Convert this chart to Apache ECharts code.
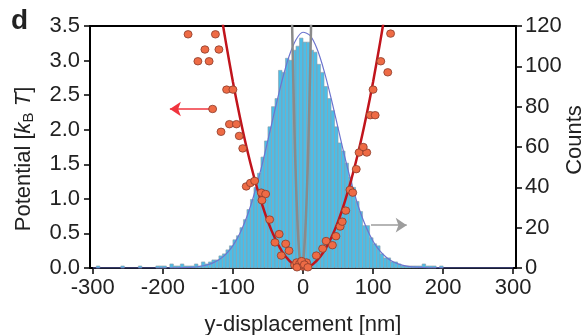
<!DOCTYPE html>
<html><head><meta charset="utf-8">
<script src="https://cdn.jsdelivr.net/npm/echarts@6/dist/echarts.min.js"></script>
<style>html,body{margin:0;padding:0;background:#fff}#c{width:587px;height:335px}</style>
</head><body><div id="c"></div>
<script>
const xTicks = [-300,-200,-100,0,100,200,300];
const binWidth = 5;
const binCenters = [
-297.5,-292.5,-287.5,-282.5,-277.5,-272.5,-267.5,-262.5,-257.5,-252.5,
-247.5,-242.5,-237.5,-232.5,-227.5,-222.5,-217.5,-212.5,-207.5,-202.5,
-197.5,-192.5,-187.5,-182.5,-177.5,-172.5,-167.5,-162.5,-157.5,-152.5,
-147.5,-142.5,-137.5,-132.5,-127.5,-122.5,-117.5,-112.5,-107.5,-102.5,
-97.5,-92.5,-87.5,-82.5,-77.5,-72.5,-67.5,-62.5,-57.5,-52.5,
-47.5,-42.5,-37.5,-32.5,-27.5,-22.5,-17.5,-12.5,-7.5,-2.5,
2.5,7.5,12.5,17.5,22.5,27.5,32.5,37.5,42.5,47.5,
52.5,57.5,62.5,67.5,72.5,77.5,82.5,87.5,92.5,97.5,
102.5,107.5,112.5,117.5,122.5,127.5,132.5,137.5,142.5,147.5,
152.5,157.5,162.5,167.5,172.5,177.5,182.5,187.5,192.5,197.5];
const binCounts = [
0,1,0,0,0,0,0,0,1,0,
0,0,0,1,0,0,0,0,1,1,
1,0,2,1,1,2,1,1,1,2,
1,3,2,3,4,4,6,7,9,11,
14,16,20,24,29,34,40,47,55,63,
70,80,84,98,97,104,103,108,110,114,
112,112,108,107,101,97,90,84,78,70,
62,58,52,45,40,33,28,21,21,15,
12,11,7,5,5,3,3,2,1,1,
1,1,1,1,2,1,1,1,0,1];
const fitX = [-300,-250,-200,-180,-160,-150,-140,-130,-120,-110,-100,-90,-80,-70,-60,-50,-40,-30,-20,-10,0,10,20,30,40,50,60,70,80,90,100,110,120,130,140,150,160,180,200,250,300];
const fitCounts = [0,0,0.01,0.07,0.31,0.63,1.22,2.27,4.03,6.85,11.1,17.2,25.5,36.2,49.0,63.5,78.5,92.8,104.9,113.2,116.9,115.3,108.7,97.9,84.4,69.5,54.6,41.1,29.5,20.3,13.3,8.35,5.0,2.87,1.57,0.82,0.41,0.09,0.02,0,0];
const potX = [-120,-115,-110,-100,-90,-80,-70,-60,-50,-40,-30,-20,-10,0,10,20,30,40,50,60,70,80,90,100,110,115,120];
const potU = [3.88,3.56,3.26,2.69,2.18,1.72,1.32,0.97,0.67,0.43,0.24,0.11,0.027,0,0.027,0.11,0.24,0.43,0.67,0.97,1.32,1.72,2.18,2.69,3.26,3.56,3.88];
const narrowX = [-17,-15.5,-14,-12,-10,-8,-6,-4,-2,0,2,4,6,8,10,11.5,13];
const narrowU = [4.32,3.5,2.77,1.92,1.23,0.69,0.31,0.077,0,0.077,0.31,0.69,1.23,1.92,2.77,3.5,4.32];
const dotX = [-164,-125,-140,-120,-150,-134,-109,-100,-129,-105,-95,-117,-91,-86,
 -81,-75,-69,-59.5,-53.3,-58.6,-47.6,-34,-40,-24.7,-20,-31,-12,-9,-5,0,5,-8.6,1,
 -2,2,7,19,28,33,42,47,53,56,61,67,71,76,80,91,86,
 125,111,121,100,96,103];
const dotU = [3.38,3.38,3.16,3.16,2.99,2.99,2.58,2.58,2.30,2.08,2.08,1.97,1.91,1.73,
 1.18,1.23,1.26,1.09,1.07,0.98,0.70,0.49,0.37,0.35,0.25,0.18,0.04,0.08,0.06,0.02,0.08,0.01,0.04,
 0.10,0.05,0.01,0.18,0.28,0.39,0.33,0.46,0.60,0.67,0.83,1.13,1.09,1.43,1.67,1.67,1.75,
 3.39,2.99,2.83,2.58,2.21,2.21];

const FONT = 'Liberation Sans, Arial, Helvetica, sans-serif';
const zip = (a, b) => a.map((v, i) => [v, b[i]]);
const chart = echarts.init(document.getElementById('c'));
chart.setOption({
  animation: false,
  backgroundColor: '#fff',
  grid: {left: 90, right: 71, top: 26, bottom: 67, show: false, containLabel: false, outerBoundsMode: 'none'},
  graphic: [{type: 'text', left: 11, top: 7, style: {text: 'd', font: 'bold 28px ' + FONT, fill: '#222'}}],
  xAxis: [{
    type: 'value', min: -304, max: 304, position: 'bottom',
    axisLine: {show: true, onZero: false, lineStyle: {color: '#000', width: 2}},
    axisTick: {show: true, length: 6, customValues: xTicks, lineStyle: {color: '#000', width: 1.5}},
    axisLabel: {customValues: xTicks, fontSize: 22, color: '#222', margin: 9, fontFamily: FONT},
    splitLine: {show: false},
    name: 'y-displacement [nm]', nameLocation: 'middle', nameGap: 46,
    nameTextStyle: {fontSize: 22, color: '#222', fontFamily: FONT}
  }, {
    type: 'value', min: -304, max: 304, position: 'top',
    axisLine: {show: true, onZero: false, lineStyle: {color: '#000', width: 2}},
    axisTick: {show: false}, axisLabel: {show: false}, splitLine: {show: false}
  }],
  yAxis: [{
    type: 'value', min: 0, max: 3.5, interval: 0.5, position: 'left',
    axisLine: {show: true, onZero: false, lineStyle: {color: '#000', width: 2}},
    axisTick: {show: true, length: 6, lineStyle: {color: '#000', width: 1.5}},
    axisLabel: {formatter: v => v.toFixed(1), fontSize: 22, color: '#222', margin: 10, fontFamily: FONT},
    splitLine: {show: false},
    name: 'Potential [{i|k}{s|B}{i| T}]', nameLocation: 'middle', nameGap: 54, nameRotate: 90,
    nameTextStyle: {fontSize: 22, color: '#222', fontFamily: FONT, padding: [0, 24, 0, 0],
      rich: {i: {fontSize: 22, fontStyle: 'italic', color: '#222', fontFamily: FONT},
             s: {fontSize: 15, color: '#222', fontFamily: FONT, padding: [9, 0, 0, 0]}}}
  }, {
    type: 'value', min: 0, max: 120, interval: 20, position: 'right',
    axisLine: {show: true, onZero: false, lineStyle: {color: '#000', width: 2}},
    axisTick: {show: true, length: 6, lineStyle: {color: '#000', width: 1.5}},
    axisLabel: {fontSize: 22, color: '#222', margin: 9, fontFamily: FONT},
    splitLine: {show: false},
    name: 'Counts', nameLocation: 'middle', nameGap: 48, nameRotate: 90, nameMoveOverlap: false,
    nameTextStyle: {fontSize: 22, color: '#222', fontFamily: FONT, padding: [0, 0, 0, 14]}
  }],
  series: [{
    type: 'custom', xAxisIndex: 0, yAxisIndex: 1, z: 1,
    data: zip(binCenters, binCounts).filter(d => d[1] > 0),
    encode: {x: 0, y: 1},
    renderItem: (params, api) => {
      const x = api.value(0), c = api.value(1);
      const p0 = api.coord([x - binWidth / 2, c]);
      const p1 = api.coord([x + binWidth / 2, 0]);
      return {type: 'rect', shape: {x: p0[0], y: p0[1], width: p1[0] - p0[0], height: p1[1] - p0[1]},
        style: {fill: '#4DBDE6', stroke: '#8f9ca6', lineWidth: 0.6}};
    }
  }, {
    type: 'line', xAxisIndex: 0, yAxisIndex: 1, z: 2, data: zip(fitX, fitCounts),
    smooth: 0.3, showSymbol: false, symbol: 'none', lineStyle: {color: '#6C74CF', width: 1.2}
  }, {
    type: 'line', xAxisIndex: 0, yAxisIndex: 0, z: 3, data: zip(narrowX, narrowU),
    smooth: 0.3, showSymbol: false, symbol: 'none', lineStyle: {color: '#8a8a8a', width: 2.5}
  }, {
    type: 'line', xAxisIndex: 0, yAxisIndex: 0, z: 4, data: zip(potX, potU),
    smooth: 0.3, showSymbol: false, symbol: 'none', lineStyle: {color: '#C1141C', width: 2.5}
  }, {
    type: 'scatter', xAxisIndex: 0, yAxisIndex: 0, z: 5, data: zip(dotX, dotU),
    symbolSize: [8, 7.5],
    itemStyle: {color: '#EE6B45', borderColor: '#8a3b2b', borderWidth: 0.8, opacity: 1},
    markLine: {
      silent: true, animation: false, symbol: ['none', 'arrow'], symbolSize: 11,
      label: {show: false},
      data: [
        [{coord: [-133, 2.30], lineStyle: {color: '#F0343E', width: 1.6, type: 'solid'}, itemStyle: {color: '#F0343E'}}, {coord: [-190, 2.30], itemStyle: {color: '#F0343E'}}],
        [{coord: [97, 0.62], lineStyle: {color: '#9d9d9d', width: 1.6, type: 'solid'}, itemStyle: {color: '#9d9d9d'}}, {coord: [148, 0.62], itemStyle: {color: '#9d9d9d'}}]
      ]
    }
  }]
});
</script></body></html>
